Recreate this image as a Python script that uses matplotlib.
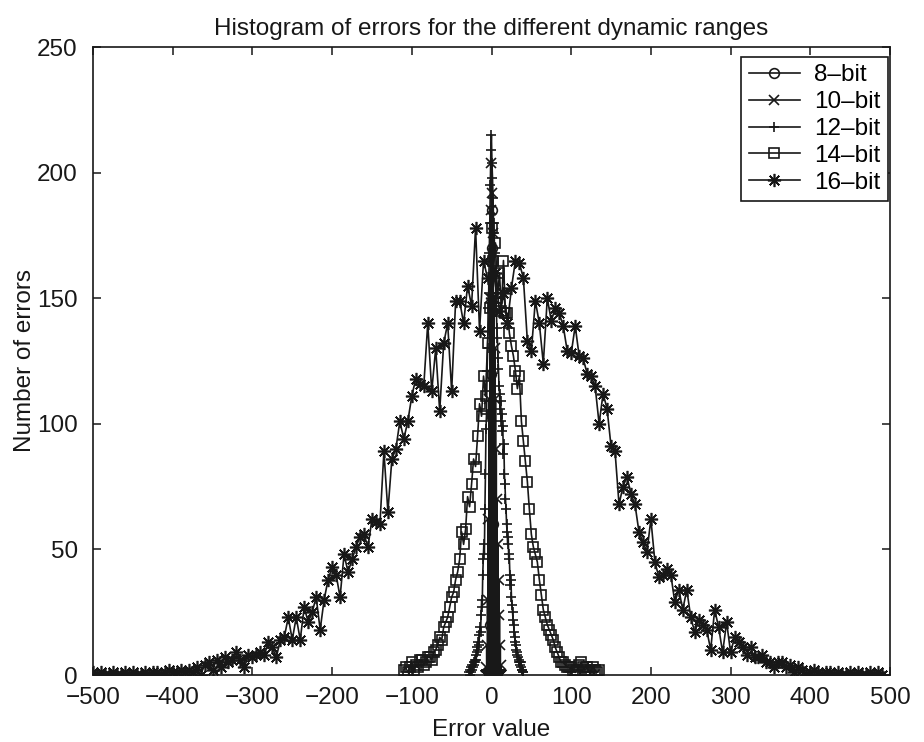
import numpy as np
import matplotlib
matplotlib.use("Agg")
import matplotlib.pyplot as plt

plt.rcParams['font.family'] = ['Liberation Sans', 'DejaVu Sans']

# ---- data ----
labels = ['8\u2013bit', '10\u2013bit', '12\u2013bit', '14\u2013bit', '16\u2013bit']
n_bins = 200  # histogram bins used for the integer-valued small-range errors

# 8-bit: integer error values and their counts
e8 = [-2, -1, 0, 1, 2, 3]
c8 = [20, 120, 185, 170, 60, 10]

# 10-bit: integer error values and their counts
e10 = [-7, -6, -5, -4, -3, -2, -1, 0, 1, 2, 3, 4, 5, 6, 7, 8, 9, 10, 11, 12]
c10 = [3, 12, 30, 62, 110, 150, 185, 204, 192, 176, 150, 130, 110, 90, 70,
       52, 38, 24, 12, 4]

# 12-bit: first bin centre, bin width, counts
x12_start, x12_step = -28.0, 0.68
y12 = [1, 0, 2, 1, 3, 2, 4, 3, 5, 4,
       6, 5, 8, 6, 9, 11, 10, 13, 12, 16,
       19, 17, 24, 30, 27, 40, 46, 52, 48, 66,
       80, 98, 104, 121, 130, 146, 152, 168, 180, 195,
       209, 215, 204, 198, 190, 180, 176, 168, 160, 152,
       148, 138, 134, 126, 122, 115, 112, 106, 109, 101,
       104, 97, 99, 88, 92, 80, 76, 70, 66, 60,
       57, 52, 55, 46, 48, 40, 36, 38, 31, 28,
       25, 22, 20, 17, 15, 13, 12, 10, 9, 8,
       7, 6, 5, 5, 4, 5, 3, 2, 2, 1, 1]

# 14-bit: first bin centre, bin width, counts
x14_start, x14_step = -110.0, 2.5
y14 = [2, 3, 1, 3, 5, 2, 4, 3, 6, 6,
       4, 5, 7, 7, 6, 9, 10, 12, 15, 14,
       19, 21, 23, 27, 31, 33, 38, 41, 46, 57,
       52, 58, 71, 67, 76, 86, 83, 95, 108, 103,
       119, 111, 132, 146, 178, 165, 172, 150, 160, 145,
       165, 144, 144, 136, 131, 127, 121, 114, 119, 101,
       93, 85, 77, 66, 56, 51, 48, 45, 38, 32,
       26, 23, 20, 18, 16, 14, 11, 9, 7, 5,
       5, 4, 3, 3, 3, 2, 1, 2, 4, 5,
       3, 2, 3, 1, 2, 3, 2, 1, 2]

# 16-bit: first bin centre, bin width, counts
x16_start, x16_step = -500.0, 5.0
y16 = [1, 0, 1, 0, 0, 1, 0, 0, 1, 0,
       1, 0, 0, 1, 0, 1, 1, 0, 1, 2,
       1, 1, 2, 1, 2, 1, 3, 0, 4, 5,
       2, 6, 3, 7, 5, 6, 9, 6, 3, 8,
       7, 8, 9, 8, 13, 11, 7, 14, 15, 23,
       14, 23, 14, 27, 21, 25, 31, 18, 30, 38,
       43, 40, 31, 48, 41, 46, 51, 55, 56, 51,
       62, 61, 60, 89, 65, 86, 90, 101, 94, 101,
       111, 118, 116, 115, 140, 113, 130, 105, 132, 140,
       113, 149, 149, 140, 155, 147, 178, 137, 165, 158,
       150, 160, 145, 152, 140, 154, 165, 164, 158, 133,
       129, 149, 140, 124, 150, 141, 146, 144, 139, 129,
       128, 139, 127, 126, 120, 119, 115, 100, 112, 106,
       91, 89, 68, 75, 79, 72, 68, 57, 53, 49,
       62, 45, 39, 40, 42, 40, 29, 34, 26, 34,
       23, 17, 22, 20, 18, 10, 26, 19, 9, 21,
       9, 15, 13, 11, 8, 11, 7, 7, 8, 5,
       5, 3, 5, 5, 3, 4, 1, 3, 2, 0,
       1, 2, 1, 0, 1, 1, 0, 1, 0, 0,
       1, 0, 1, 0, 0, 1, 0, 1, 0]

xticks = [-500, -400, -300, -200, -100, 0, 100, 200, 300, 400, 500]
yticks = [0, 50, 100, 150, 200, 250]


def hist_points(values, counts):
    cnt, edges = np.histogram(values, bins=n_bins, weights=counts)
    return 0.5 * (edges[:-1] + edges[1:]), cnt


def grid_points(start, step, counts):
    return start + step * np.arange(len(counts)), np.asarray(counts)


series = [
    (hist_points(e8, c8), 'o'),
    (hist_points(e10, c10), 'x'),
    (grid_points(x12_start, x12_step, y12), '+'),
    (grid_points(x14_start, x14_step, y14), 's'),
    (grid_points(x16_start, x16_step, y16), (8, 2, 0)),
]

# ---- figure ----
W, H = 924, 742
fig = plt.figure(figsize=(W / 100, H / 100), dpi=100)
ax = fig.add_axes([93 / W, 1 - 675 / H, (890 - 93) / W, (675 - 47) / H])

col = '#181818'
FS = 17.5
for ((xs, ys), mk), lab in zip(series, labels):
    kw = dict(color=col, lw=1.2, marker=mk, markersize=7, markeredgewidth=1.2,
              label=lab)
    if mk in ('o', 's'):
        kw['markerfacecolor'] = 'none'
    if mk == (8, 2, 0):
        kw['markersize'] = 9.5
    ax.plot(xs, ys, **kw)

ax.set_xlim(-500, 500)
ax.set_ylim(0, 250)
ax.set_xticks(xticks)
ax.set_yticks(yticks)
ax.tick_params(direction='in', top=True, right=True, length=6, width=1.1,
               labelsize=FS, colors=col)
ax.tick_params(axis='x', pad=9)
ax.tick_params(axis='y', pad=11)
for sp in ax.spines.values():
    sp.set_linewidth(1.2)
    sp.set_color(col)

ax.set_title('Histogram of errors for the different dynamic ranges',
             fontsize=FS, pad=9, color=col)
ax.set_xlabel('Error value', fontsize=FS, labelpad=7, color=col)
ax.set_ylabel('Number of errors', fontsize=FS, labelpad=1, color=col)

leg = ax.legend(loc='upper right', bbox_to_anchor=(0.9975, 0.984),
                borderaxespad=0, fontsize=FS, frameon=True, fancybox=False,
                edgecolor=col, framealpha=1, handlelength=2.1,
                handletextpad=0.6, labelspacing=0.2, borderpad=0.3)
leg.get_frame().set_linewidth(1.2)

fig.savefig('out.png', dpi=100)
